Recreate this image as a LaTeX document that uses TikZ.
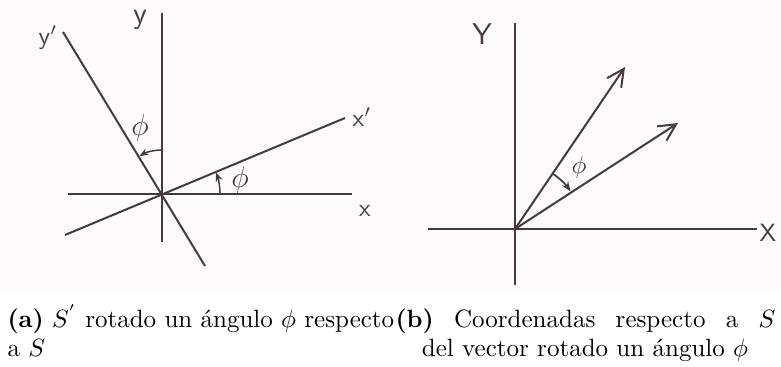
\documentclass[tikz,border=0pt]{standalone}
\usepackage{amsmath, amssymb}
\usepackage{tikz}
\usetikzlibrary{arrows.meta, calc}
\definecolor{PencilColor}{RGB}{72,58,60}
\definecolor{PaperColor}{RGB}{253,252,248}

\begin{document}
\begin{tikzpicture}[x=0.4pt, y=0.4pt]
  \useasboundingbox (0,0) rectangle (781,367);
  \fill[PaperColor] (0,75) rectangle (781,367);
  % (a) rotated frame
  \coordinate (Oa) at (162,173);
  \coordinate (ya) at (162,125); \coordinate (yb) at (162,354);
  \coordinate (xa) at (68,173);  \coordinate (xb) at (352,173);
  \coordinate (ypa) at (205,101); \coordinate (ypb) at (63,335);
  \coordinate (xpa) at (65,132);  \coordinate (xpb) at (345,249);
  \draw[PencilColor, line width=0.8pt] (ya) -- (yb);
  \draw[PencilColor, line width=0.8pt] (xa) -- (xb);
  \draw[PencilColor, line width=0.8pt] (ypa) -- (ypb);
  \draw[PencilColor, line width=0.8pt] (xpa) -- (xpb);
  \draw[PencilColor, line width=0.6pt, -{Stealth[length=1.3mm]}] ($(Oa)+(0,44)$) arc (90:121:44);
  \draw[PencilColor, line width=0.6pt, -{Stealth[length=1.3mm]}] ($(Oa)+(58,0)$) arc (0:22:58);
  \node[PencilColor] (ylab) at (140,347) {\sffamily\large y};
  \node[PencilColor] (yplab) at (48,329) {\sffamily y$'$};
  \node[PencilColor] (xplab) at (362,250) {\sffamily x$'$};
  \node[PencilColor] (xlab) at (365,156) {\sffamily x};
  \node[PencilColor] (phia) at (140,239) {\large $\phi$};
  \node[PencilColor] (phib) at (240,187) {\large $\phi$};
  % (b) rotated vector
  \coordinate (Ob) at (515,138);
  \coordinate (Ya) at (515,82);  \coordinate (Yb) at (515,344);
  \coordinate (Xa) at (428,138); \coordinate (Xb) at (757,138);
  \coordinate (va) at (625,300); \coordinate (vb) at (678,244);
  \draw[PencilColor, line width=0.8pt] (Ya) -- (Yb);
  \draw[PencilColor, line width=0.8pt] (Xa) -- (Xb);
  \draw[PencilColor, line width=0.8pt, -{Straight Barb[length=2.4mm, width=2.4mm]}] (Ob) -- (va);
  \draw[PencilColor, line width=0.8pt, -{Straight Barb[length=2.4mm, width=2.4mm]}] (Ob) -- (vb);
  \draw[PencilColor, line width=0.7pt, -{Stealth[length=1.4mm]}] ($(Ob)+(55.8:67)$) arc (55.8:34:67);
  \node[PencilColor] (Ylab) at (482,333) {\sffamily\large Y};
  \node[PencilColor] (Xlab) at (768,134) {\sffamily X};
  \node[PencilColor] (phic) at (579,200) {$\phi$};
  % captions
  \node[anchor=base west, inner sep=0pt] (capa) at (7,39)
    {\textbf{(a)} $S^{'}$ rotado un ángulo $\phi$ respecto};
  \node[anchor=base west, inner sep=0pt] (capa2) at (7,10) {a $S$};
  \node[anchor=base west, inner sep=0pt] (capb) at (395,39)
    {\makebox[152pt][s]{\textbf{(b)} Coordenadas respecto a $S$}};
  \node[anchor=base, inner sep=0pt] (capb2) at (585,10) {del vector rotado un ángulo $\phi$};
\end{tikzpicture}
\end{document}
